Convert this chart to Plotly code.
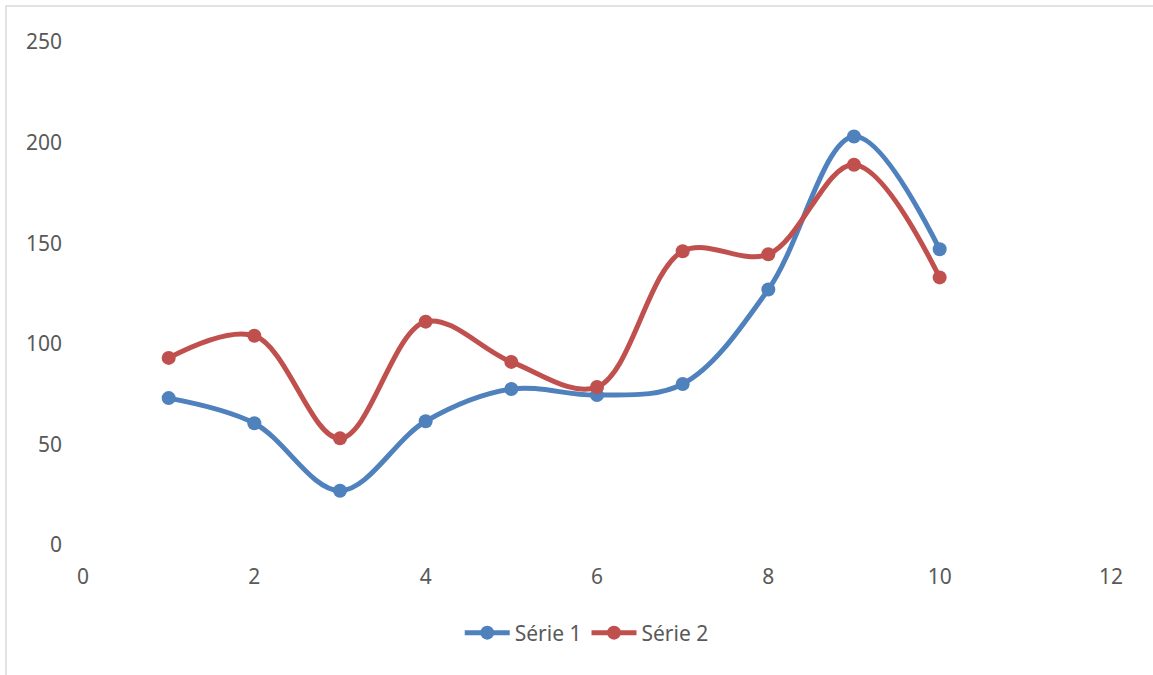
import plotly.graph_objects as go

x_vals = [1, 2, 3, 4, 5, 6, 7, 8, 9, 10]
serie1 = [73, 60.5, 27, 61.5, 77.5, 74.5, 80, 127, 203, 147]
serie2 = [93, 104, 53, 111, 91, 78.5, 146, 144.5, 189, 133]
names = ["Série 1", "Série 2"]
colors = ["#4F81BD", "#C0504D"]

W, H = 1153, 675
L, R, T, B = 83, 42, 42, 130
pw, ph = W - L - R, H - T - B

fig = go.Figure()
for name, ys, c in zip(names, [serie1, serie2], colors):
    fig.add_trace(go.Scatter(
        x=x_vals, y=ys, name=name, mode="lines+markers",
        line=dict(color=c, width=5, shape="spline", smoothing=1),
        marker=dict(color=c, size=14),
    ))

font = dict(family="Noto Sans, Open Sans, sans-serif", size=21, color="#595959")
fig.update_layout(
    width=W, height=H,
    margin=dict(l=L, r=R, t=T, b=B, pad=0),
    paper_bgcolor="white", plot_bgcolor="white",
    font=font,
    showlegend=True,
    legend=dict(orientation="h", x=0.49, xanchor="center", y=-0.175, yanchor="middle",
                font=font, itemwidth=45, bgcolor="rgba(0,0,0,0)"),
    xaxis=dict(range=[0, 12], tickvals=[0, 2, 4, 6, 8, 10, 12], showgrid=False,
               zeroline=False, showline=False, ticks="", tickfont=font,
               ticklabelstandoff=17),
    yaxis=dict(range=[0, 250], tickvals=[0, 50, 100, 150, 200, 250], showgrid=False,
               zeroline=False, showline=False, ticks="", tickfont=font,
               ticklabelstandoff=20),
    shapes=[dict(type="rect", xref="paper", yref="paper",
                 x0=(6 - L) / pw, x1=(W + 10 - L) / pw,
                 y0=(H - B - (H + 10)) / ph, y1=(H - B - 6) / ph,
                 line=dict(color="#D9D9D9", width=1.5), fillcolor="rgba(0,0,0,0)", layer="below")],
)
fig.write_html("out.html", config={"displayModeBar": False},
               post_script="document.body.style.margin='0';")
